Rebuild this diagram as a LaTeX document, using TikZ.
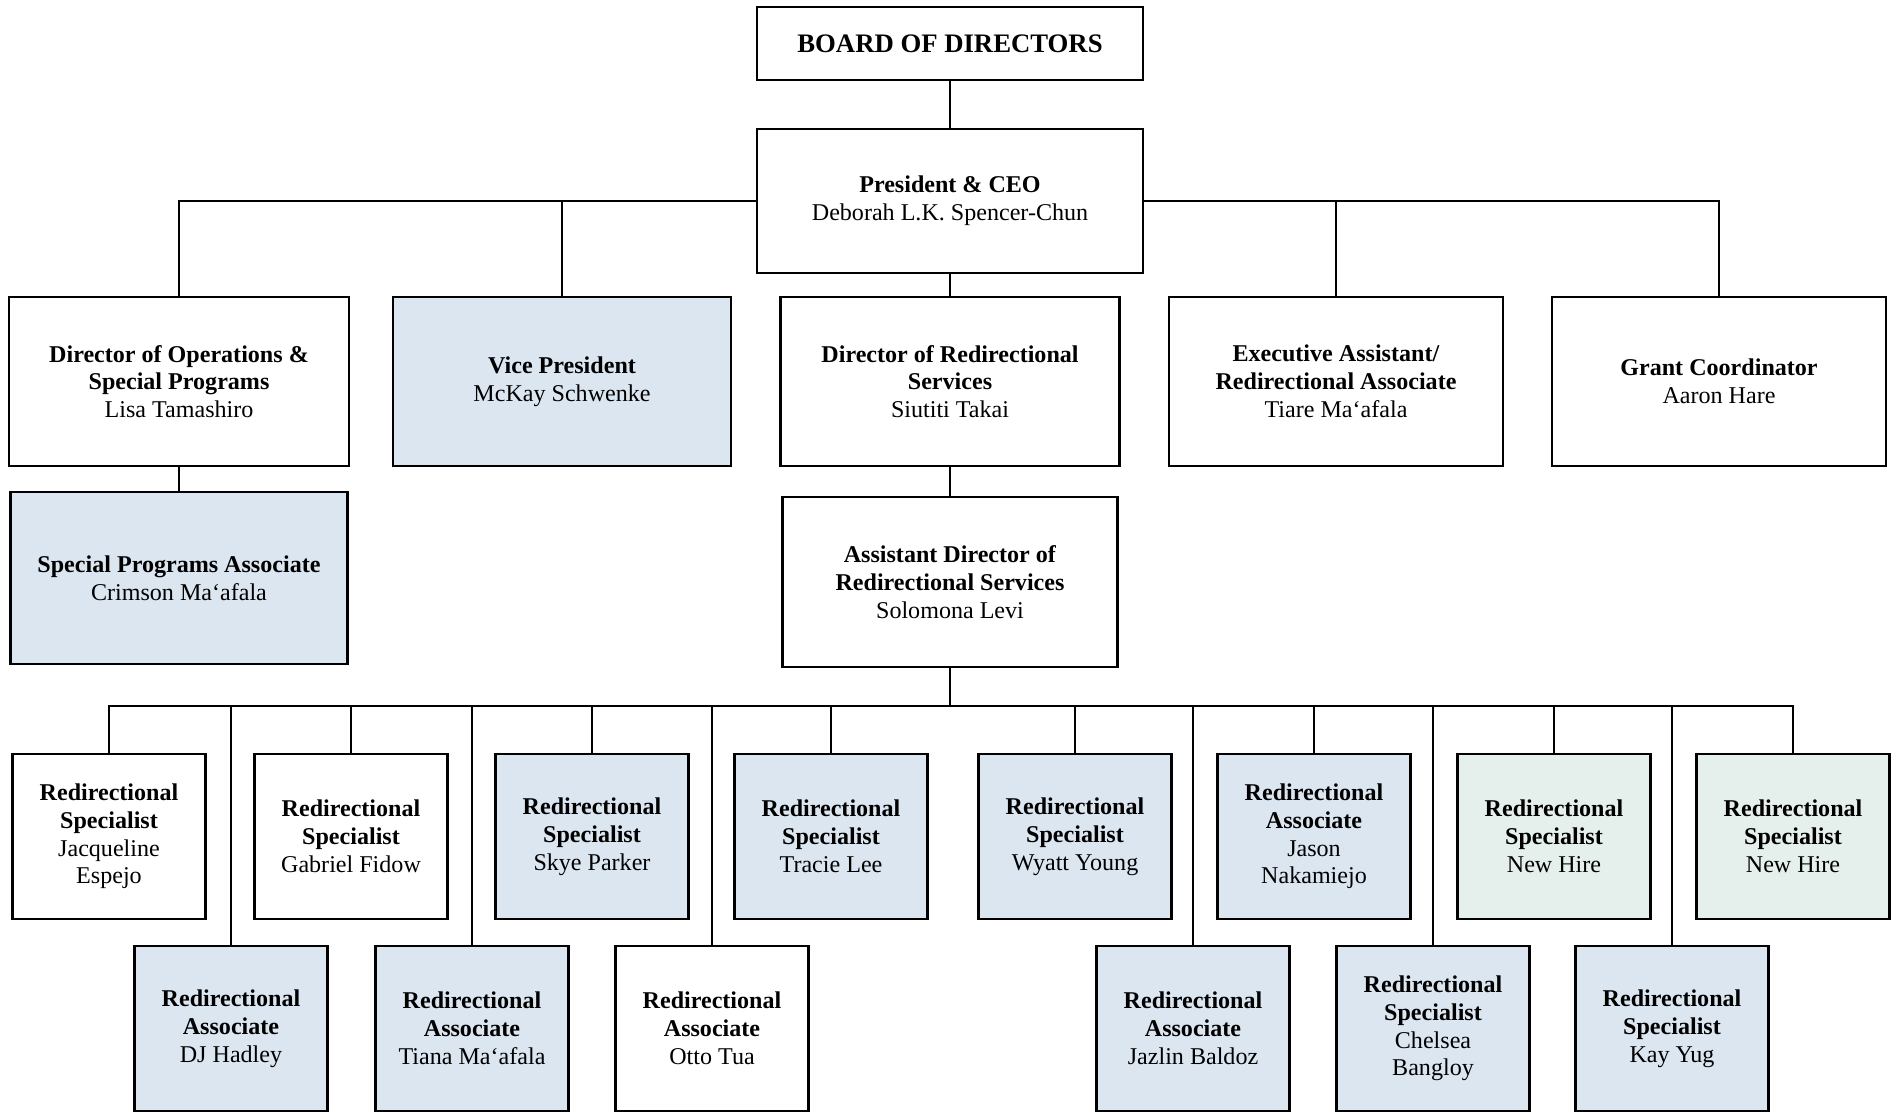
\documentclass[tikz,border=0pt]{standalone}
\usepackage{fontspec}
\setmainfont{Liberation Serif}
\definecolor{bluefill}{RGB}{220,230,241}
\definecolor{greenfill}{RGB}{229,240,236}

\begin{document}
\begin{tikzpicture}[
    box/.style={draw, line width=0.75pt, fill=white, align=center, inner sep=0pt, font=\fontsize{6.85}{7.9}\selectfont},
    bluebox/.style={box, fill=bluefill},
    greenbox/.style={box, fill=greenfill},
    wide/.style={minimum width=3.38cm, minimum height=1.69cm},
    small/.style={minimum width=1.93cm, minimum height=1.65cm},
    link/.style={line width=0.6pt}
]

    \def \ytop {-3.815}
    \def \yrowa {-8.365}
    \def \yrowb {-10.285}

    \useasboundingbox (0,0) rectangle (18.92,-11.11);

    % Board and president
    \node[box, font=\fontsize{7.6}{9}\selectfont\bfseries, minimum width=3.86cm, minimum height=0.73cm] (board) at (9.5,-0.435) {BOARD OF DIRECTORS};
    \node[box, minimum width=3.86cm, minimum height=1.44cm] (pres) at (9.5,-2.01) {\textbf{President \& CEO}\\Deborah L.K. Spencer-Chun};

    % Reports to the president
    \node[box, wide, minimum width=3.40cm] (dirops) at (1.79,\ytop) {\textbf{Director of Operations \&}\\\textbf{Special Programs}\\Lisa Tamashiro};
    \node[bluebox, wide] (vp) at (5.62,\ytop) {\textbf{Vice President}\\McKay Schwenke};
    \node[box, wide, minimum width=3.39cm] (dirred) at (9.5,\ytop) {\textbf{Director of Redirectional}\\\textbf{Services}\\Siutiti Takai};
    \node[box, wide, minimum width=3.34cm] (execasst) at (13.36,\ytop) {\textbf{Executive Assistant/}\\\textbf{Redirectional Associate}\\Tiare Ma‘afala};
    \node[box, wide, minimum width=3.34cm] (grant) at (17.19,\ytop) {\textbf{Grant Coordinator}\\Aaron Hare};

    \node[bluebox, minimum width=3.37cm, minimum height=1.72cm] (specprog) at (1.79,-5.78) {\textbf{Special Programs Associate}\\Crimson Ma‘afala};
    \node[box, minimum width=3.35cm, minimum height=1.70cm] (asstdir) at (9.5,-5.82) {\textbf{Assistant Director of}\\\textbf{Redirectional Services}\\Solomona Levi};

    % First row of staff
    \node[box, small] (jacqueline) at (1.09,\yrowa) {\textbf{Redirectional}\\\textbf{Specialist}\\Jacqueline\\Espejo};
    \node[box, small] (gabriel) at (3.51,\yrowa) {\textbf{Redirectional}\\\textbf{Specialist}\\Gabriel Fidow};
    \node[bluebox, small] (skye) at (5.92,\yrowa) {\textbf{Redirectional}\\\textbf{Specialist}\\Skye Parker};
    \node[bluebox, small] (tracie) at (8.31,\yrowa) {\textbf{Redirectional}\\\textbf{Specialist}\\Tracie Lee};
    \node[bluebox, small] (wyatt) at (10.75,\yrowa) {\textbf{Redirectional}\\\textbf{Specialist}\\Wyatt Young};
    \node[bluebox, small] (jason) at (13.14,\yrowa) {\textbf{Redirectional}\\\textbf{Associate}\\Jason\\Nakamiejo};
    \node[greenbox, small] (newhirea) at (15.54,\yrowa) {\textbf{Redirectional}\\\textbf{Specialist}\\New Hire};
    \node[greenbox, small] (newhireb) at (17.93,\yrowa) {\textbf{Redirectional}\\\textbf{Specialist}\\New Hire};

    % Second row of staff
    \node[bluebox, small] (djhadley) at (2.31,\yrowb) {\textbf{Redirectional}\\\textbf{Associate}\\DJ Hadley};
    \node[bluebox, small] (tiana) at (4.72,\yrowb) {\textbf{Redirectional}\\\textbf{Associate}\\Tiana Ma‘afala};
    \node[box, small] (otto) at (7.12,\yrowb) {\textbf{Redirectional}\\\textbf{Associate}\\Otto Tua};
    \node[bluebox, small] (jazlin) at (11.93,\yrowb) {\textbf{Redirectional}\\\textbf{Associate}\\Jazlin Baldoz};
    \node[bluebox, small] (chelsea) at (14.33,\yrowb) {\textbf{Redirectional}\\\textbf{Specialist}\\Chelsea\\Bangloy};
    \node[bluebox, small] (kay) at (16.72,\yrowb) {\textbf{Redirectional}\\\textbf{Specialist}\\Kay Yug};

    % Lines from the president
    \draw[link] (board) -- (pres);
    \draw[link] (pres.west) -| (dirops.north) (pres.west) -| (vp.north);
    \draw[link] (pres.east) -| (grant.north) (pres.east) -| (execasst.north);
    \draw[link] (pres) -- (dirred);
    \draw[link] (dirops) -- (specprog);
    \draw[link] (dirred) -- (asstdir);

    % Bus under the assistant director
    \coordinate (bus) at (9.5,-7.06);
    \draw[link] (asstdir) -- (bus);
    \draw[link] (bus) -| (jacqueline.north) (bus) -| (djhadley.north) (bus) -| (gabriel.north) (bus) -| (tiana.north) (bus) -| (skye.north) (bus) -| (otto.north) (bus) -| (tracie.north);
    \draw[link] (bus) -| (wyatt.north) (bus) -| (jazlin.north) (bus) -| (jason.north) (bus) -| (chelsea.north) (bus) -| (newhirea.north) (bus) -| (kay.north) (bus) -| (newhireb.north);

\end{tikzpicture}
\end{document}
